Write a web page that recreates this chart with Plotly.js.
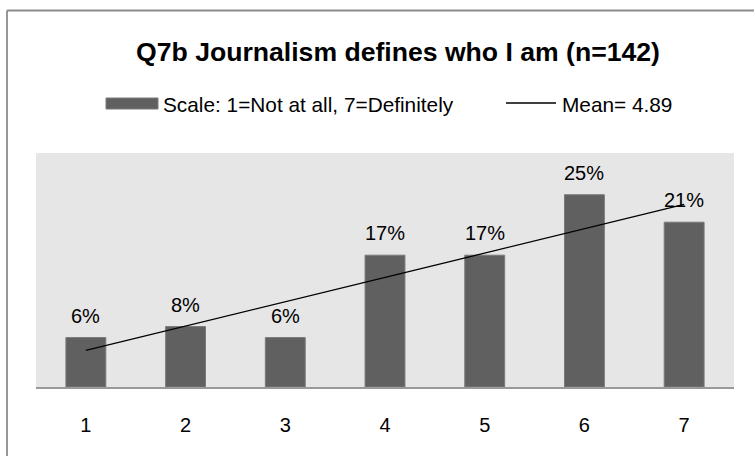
<!DOCTYPE html>
<html>
<head>
<meta charset="utf-8">
<script src="https://cdn.plot.ly/plotly-3.0.1.min.js"></script>
<style>html,body{margin:0;padding:0;background:#fff;}#chart{width:754px;height:456px;}</style>
</head>
<body>
<div id="chart"></div>
<script>
// Data
const categories = [1, 2, 3, 4, 5, 6, 7];
const percents = [6.34, 7.75, 6.34, 16.9, 16.9, 24.65, 21.13];
const labels = ["6%", "8%", "6%", "17%", "17%", "25%", "21%"];
const trendX = [1, 7];
const trendY = [4.7, 23.4];
const titleText = "Q7b Journalism defines who I am (n=142)";
const barLegend = "Scale: 1=Not at all, 7=Definitely";
const lineLegend = "Mean= 4.89";

const FONT = "Liberation Sans, Arial, sans-serif";

const bars = {
  type: 'bar', x: categories, y: percents, name: barLegend,
  marker: {color: '#606060', line: {color: '#7a7a7a', width: 1}},
  hoverinfo: 'skip', showlegend: false
};
const trend = {
  type: 'scatter', mode: 'lines', x: trendX, y: trendY, name: lineLegend,
  line: {color: '#000', width: 1.3}, hoverinfo: 'skip', showlegend: false
};

const annotations = categories.map((c, i) => ({
  x: c, y: percents[i], xref: 'x', yref: 'y', text: labels[i],
  showarrow: false, yanchor: 'bottom', yshift: 9,
  font: {family: FONT, size: 20, color: '#000'}
}));

// Legend (custom, to match wide swatch)
const pxX = v => (v - 36) / 698;
const pxY = v => (387 - v) / 234;
annotations.push({
  xref: 'paper', yref: 'paper', x: pxX(161), y: pxY(104), xanchor: 'left', yanchor: 'middle',
  text: barLegend, showarrow: false, font: {family: FONT, size: 20.8, color: '#000'}
});
annotations.push({
  xref: 'paper', yref: 'paper', x: pxX(560), y: pxY(104), xanchor: 'left', yanchor: 'middle',
  text: lineLegend, showarrow: false, font: {family: FONT, size: 20.8, color: '#000'}
});

const shapes = [
  {type: 'line', xref: 'paper', yref: 'paper', x0: pxX(7), x1: pxX(754), y0: pxY(10.5), y1: pxY(10.5),
   line: {color: '#8c8c8c', width: 1.8}, layer: 'below'},
  {type: 'line', xref: 'paper', yref: 'paper', x0: pxX(7), x1: pxX(7), y0: pxY(10.5), y1: pxY(456),
   line: {color: '#8c8c8c', width: 1.8}, layer: 'below'},
  {type: 'rect', xref: 'paper', yref: 'paper', x0: pxX(106), x1: pxX(158), y0: pxY(98), y1: pxY(109),
   line: {color: '#7a7a7a', width: 1}, fillcolor: '#606060'},
  {type: 'line', xref: 'paper', yref: 'paper', x0: pxX(506), x1: pxX(556), y0: pxY(103), y1: pxY(103),
   line: {color: '#000', width: 1.3}}
];

const layout = {
  width: 754, height: 456,
  margin: {l: 36, r: 20, t: 153, b: 69},
  paper_bgcolor: '#fff', plot_bgcolor: '#e6e6e6',
  font: {family: FONT, color: '#000'},
  title: {
    text: '<b>' + titleText + '</b>',
    font: {family: FONT, size: 26.6, color: '#000'},
    xref: 'paper', x: pxX(398), xanchor: 'center',
    yref: 'container', y: 1 - 52 / 456, yanchor: 'middle'
  },
  bargap: 0.6,
  xaxis: {
    type: 'linear', range: [0.5, 7.5], tickvals: categories, ticktext: categories.map(String),
    showgrid: false, zeroline: false, showline: true, linecolor: '#999', linewidth: 1.5,
    ticks: '', ticklabelstandoff: 19, tickfont: {family: FONT, size: 20, color: '#000'}
  },
  yaxis: {
    range: [0, 30], showgrid: false, zeroline: false, showline: false,
    showticklabels: false, ticks: ''
  },
  annotations: annotations,
  shapes: shapes,
  showlegend: false
};

Plotly.newPlot('chart', [bars, trend], layout, {displayModeBar: false, staticPlot: true});
</script>
</body>
</html>
